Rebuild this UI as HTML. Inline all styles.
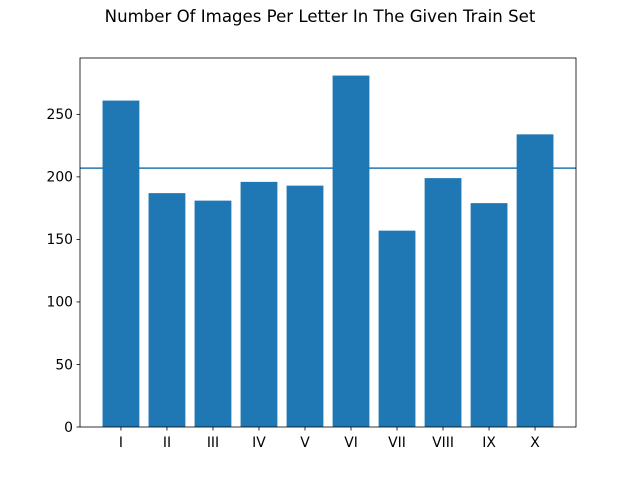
<!DOCTYPE html>
<html><head><meta charset="utf-8"><style>
body{margin:0;background:#fff;}
svg text{font-family:"DejaVu Sans","Liberation Sans",sans-serif;}
</style></head><body>
<svg id="chart" width="640" height="480" xmlns="http://www.w3.org/2000/svg">
<rect width="640" height="480" fill="#fff"/>
<text x="320" y="22" text-anchor="middle" font-size="16.6">Number Of Images Per Letter In The Given Train Set</text>
<g id="bars"></g>
<g id="axes"></g>
</svg>
<script>
const categories = ["I","II","III","IV","V","VI","VII","VIII","IX","X"];
const values = [261,187,181,196,193,281,157,199,179,234];
const yTicks = [0,50,100,150,200,250];
const meanLine = [207];

const L=80,R=576,T=58,B=427;
const n=categories.length;
const xlo=-0.4-0.05*(n-1+0.8), xhi=n-1+0.4+0.05*(n-1+0.8);
const ymax=Math.max(...values)*1.05;
const xs=v=>L+(v-xlo)/(xhi-xlo)*(R-L);
const ys=v=>B-v/ymax*(B-T);
const NS="http://www.w3.org/2000/svg";
const bars=document.getElementById('bars'), axes=document.getElementById('axes');
function mk(tag,attrs,parent){const e=document.createElementNS(NS,tag);for(const k in attrs)e.setAttribute(k,attrs[k]);parent.appendChild(e);return e;}
values.forEach((v,i)=>{
  const r=mk('rect',{x:xs(i-0.4),y:ys(v),width:xs(i+0.4)-xs(i-0.4),height:B-ys(v),fill:'#1f77b4'},bars);
  
  
});
const ml=mk('line',{x1:L,x2:R,y1:ys(meanLine[0]),y2:ys(meanLine[0]),stroke:'#1f77b4','stroke-width':1.5},bars);


const fr=mk('rect',{x:L,y:T,width:R-L,height:B-T,fill:'none',stroke:'#000','stroke-width':0.8},axes);


yTicks.forEach(t=>{
  const y=ys(t);
  mk('line',{x1:L-3.5,x2:L,y1:y,y2:y,stroke:'#000','stroke-width':0.8},axes);
  const tx=mk('text',{x:L-7,y:y+4.8,'text-anchor':'end','font-size':13.9},axes);
  tx.textContent=t;
  
  
});
categories.forEach((c,i)=>{
  const x=xs(i);
  mk('line',{x1:x,x2:x,y1:B,y2:B+3.5,stroke:'#000','stroke-width':0.8},axes);
  const tx=mk('text',{x:x,y:B+20,'text-anchor':'middle','font-size':13.9},axes);
  tx.textContent=c;
  
  
});
</script>
</body></html>
